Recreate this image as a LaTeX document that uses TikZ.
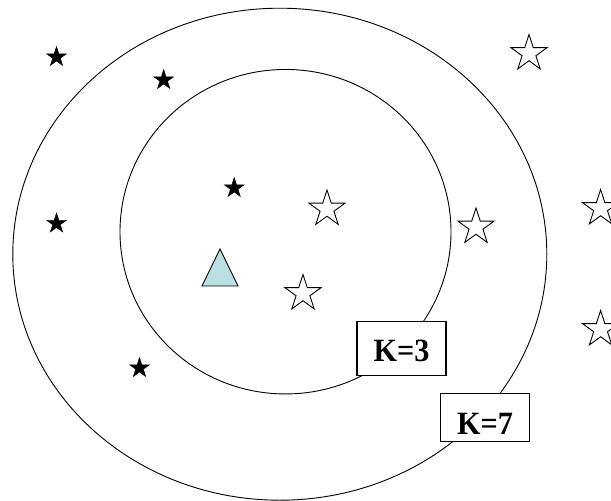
\documentclass[tikz,border=0pt]{standalone}
\usepackage{fontspec}
\setmainfont{Liberation Serif}
\newfontfamily\labelfont[FakeStretch=0.93]{Liberation Serif}
\usepackage{tikz}
\usetikzlibrary{shapes.geometric}

\definecolor{queryblue}{RGB}{187,224,228}

\begin{document}
\begin{tikzpicture}[
    x=1pt, y=-1pt,
    ring/.style={draw, ellipse, line width=0.9pt, inner sep=0pt, outer sep=0pt},
    nbrA/.style={star, star points=5, star point ratio=2.618, draw=black, fill=black, inner sep=0pt, minimum size=21pt},
    nbrB/.style={star, star points=5, star point ratio=2.618, draw=black, fill=white, line width=0.9pt, inner sep=0pt, minimum size=38pt},
    query/.style={draw=black, fill=queryblue, line width=0.9pt},
    kbox/.style={draw, fill=white, line width=1.1pt, minimum width=89pt, inner sep=0pt, text depth=0pt, font=\labelfont\fontsize{32.5}{38}\selectfont\bfseries},
]
\useasboundingbox (0,0) rectangle (611,501);
\clip (0,0) rectangle (611,501);

% neighbourhoods
\node[ring, minimum width=534pt, minimum height=492pt] (outer) at (279.8,254.2) {};
\node[ring, minimum width=331pt, minimum height=324.5pt] (inner) at (285.5,231.7) {};

% filled stars
\node[nbrA] (a1) at (56.5,57) {};
\node[nbrA] (a2) at (163.7,80) {};
\node[nbrA] (a3) at (234.2,188) {};
\node[nbrA] (a4) at (56.5,223.5) {};
\node[nbrA] (a5) at (139.5,368) {};

% open stars
\node[nbrB] (b1) at (529,53.5) {};
\node[nbrB] (b2) at (327,209) {};
\node[nbrB] (b3) at (476,227) {};
\node[nbrB] (b4) at (303,293.5) {};
\node[nbrB] (b5) at (600.6,208.5) {};
\node[nbrB] (b6) at (600.6,329.5) {};

% query point
\coordinate (q) at (220,267.5);
\draw[query] (q) ++(0,-18.5) -- ++(18,37) -- ++(-36,0) -- cycle;

% labels
\node[kbox, minimum height=54pt, text height=25.6pt] (k3) at (401.5,348.7) {K=3};
\node[kbox, minimum height=48.4pt, text height=33.6pt] (k7) at (485,417.5) {K=7};

\end{tikzpicture}
\end{document}
